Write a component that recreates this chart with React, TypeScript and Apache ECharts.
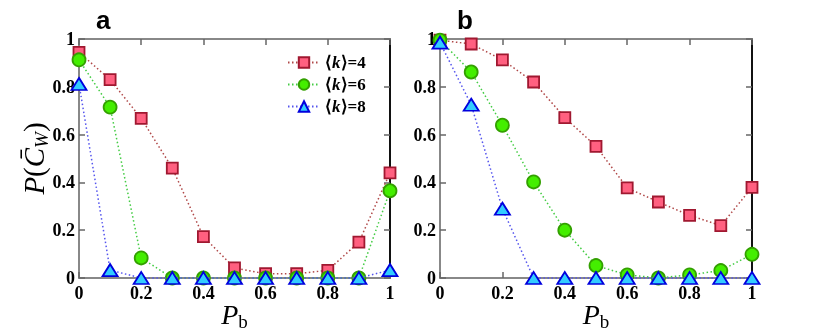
import React, { useEffect, useRef } from "react";
import * as echarts from "echarts";

const pb = [0, 0.1, 0.2, 0.3, 0.4, 0.5, 0.6, 0.7, 0.8, 0.9, 1.0];
const aK4 = [0.944, 0.83, 0.668, 0.46, 0.173, 0.042, 0.018, 0.018, 0.032, 0.15, 0.44];
const aK6 = [0.913, 0.715, 0.084, 0, 0, 0, 0, 0, 0, 0, 0.365];
const aK8 = [0.812, 0.033, 0, 0, 0, 0, 0, 0, 0, 0, 0.033];
const bK4 = [0.995, 0.979, 0.913, 0.82, 0.671, 0.551, 0.377, 0.318, 0.262, 0.219, 0.379];
const bK6 = [0.995, 0.862, 0.639, 0.402, 0.2, 0.052, 0.013, 0, 0.013, 0.031, 0.099];
const bK8 = [0.985, 0.725, 0.29, 0, 0, 0, 0, 0, 0, 0, 0];
const seriesNames = ["⟨k⟩=4", "⟨k⟩=6", "⟨k⟩=8"];
const panelLabels = ["a", "b"];

const styles = [
  { symbol: "rect", size: 11, fill: "#ff6080", border: "#a01830", line: "#b04848" },
  { symbol: "circle", size: 13, fill: "#44ee00", border: "#33a000", line: "#44cc44" },
  { symbol: "triangle", size: [15, 12], fill: "#33ccff", border: "#0000dd", line: "#5555ee" },
];

const fmt = (v: number) => (v === 0 || v === 1 ? String(v) : v.toFixed(1));
const labelFont = { fontFamily: "Liberation Serif", fontWeight: "bold" as const, fontSize: 18, color: "#000" };

export default function App() {
  const ref = useRef<HTMLDivElement>(null);
  useEffect(() => {
    const chart = echarts.init(ref.current!, null, { renderer: "svg" });
    const grids = [
      { left: 79, top: 39, width: 311, height: 239, outerBoundsMode: "none", containLabel: false },
      { left: 440, top: 39, width: 312, height: 239, outerBoundsMode: "none", containLabel: false },
    ];
    const xAxis: any[] = [];
    const yAxis: any[] = [];
    grids.forEach((_, gi) => {
      xAxis.push({
        type: "value", gridIndex: gi, min: 0, max: 1, interval: 0.2, position: "bottom",
        axisLine: { onZero: false, lineStyle: { color: "#888", width: 2 } },
        axisTick: { inside: true, length: 6, lineStyle: { color: "#666", width: 1.5 } },
        axisLabel: { ...labelFont, formatter: fmt, margin: 6 },
        splitLine: { show: false },
        name: "{i|P}{s|b}", nameLocation: "middle", nameGap: 22, nameMoveOverlap: false,
        nameTextStyle: {
          verticalAlign: "top",
          rich: {
            i: { fontFamily: "Liberation Serif", fontStyle: "italic", fontSize: 28, color: "#000", verticalAlign: "bottom" },
            s: { fontFamily: "Liberation Serif", fontSize: 19, color: "#000", verticalAlign: "bottom", padding: [0, 0, -3, 0] },
          },
        },
      });
      xAxis.push({
        type: "value", gridIndex: gi, min: 0, max: 1, interval: 0.2, position: "top",
        axisLine: { onZero: false, lineStyle: { color: "#888", width: 2 } },
        axisTick: { inside: true, length: 6, lineStyle: { color: "#666", width: 1.5 } },
        axisLabel: { show: false }, splitLine: { show: false },
      });
      yAxis.push({
        type: "value", gridIndex: gi, min: 0, max: 1, interval: 0.2, position: "left",
        axisLine: { show: true, onZero: false, lineStyle: { color: "#888", width: 2 } },
        axisTick: { show: true, inside: true, length: 6, lineStyle: { color: "#666", width: 1.5 } },
        axisLabel: { ...labelFont, formatter: fmt, margin: 4 },
        splitLine: { show: false },
        ...(gi === 0
          ? {
              name: "{i|P}{n|(}{i|C̄}{s|W}{n|)}", nameLocation: "middle", nameGap: 31, nameRotate: 90,
              nameMoveOverlap: false,
              nameTextStyle: {
                rich: {
                  i: { fontFamily: "Liberation Serif", fontStyle: "italic", fontSize: 29, color: "#000", verticalAlign: "bottom" },
                  n: { fontFamily: "Liberation Serif", fontSize: 29, color: "#000", verticalAlign: "bottom" },
                  s: { fontFamily: "Liberation Serif", fontStyle: "italic", fontSize: 19, color: "#000", verticalAlign: "bottom", padding: [0, 0, -3, 0] },
                },
              },
            }
          : {}),
      });
      yAxis.push({
        type: "value", gridIndex: gi, min: 0, max: 1, interval: 0.2, position: "right",
        axisLine: { show: true, onZero: false, lineStyle: { color: "#111", width: 2 } },
        axisTick: { show: true, inside: true, length: 6, lineStyle: { color: "#666", width: 1.5 } },
        axisLabel: { show: false }, splitLine: { show: false },
      });
    });
    const data = [[aK4, aK6, aK8], [bK4, bK6, bK8]];
    const series: any[] = [];
    data.forEach((panel, gi) => {
      panel.forEach((vals, si) => {
        const st = styles[si];
        series.push({
          type: "line", name: seriesNames[si], xAxisIndex: gi * 2, yAxisIndex: gi * 2,
          data: pb.map((x, i) => [x, vals[i]]),
          symbol: st.symbol, symbolSize: st.size, showAllSymbol: true,
          lineStyle: { color: st.line, width: 1.5, type: [1.5, 2.5] },
          itemStyle: { color: st.fill, borderColor: st.border, borderWidth: 1.8 },
          z: 2 + si,
          clip: false,
        });
      });
    });
    chart.setOption({
      animation: false,
      grid: grids,
      xAxis, yAxis, series,
      legend: {
        data: seriesNames, orient: "vertical", left: 287, top: 54, itemGap: 5, padding: 0,
        itemWidth: 32, itemHeight: 13,
        formatter: (n: string) => "⟨{i|k}⟩=" + n.slice(-1),
        textStyle: {
          fontFamily: "Liberation Serif", fontWeight: "bold", fontSize: 17, color: "#000",
          rich: { i: { fontFamily: "Liberation Serif", fontWeight: "bold", fontStyle: "italic", fontSize: 17, color: "#000" } },
        },
      },
      graphic: panelLabels.map((t, i) => ({
        type: "text", left: i === 0 ? 96 : 457, top: 7,
        style: { text: t, font: "bold 26px 'Liberation Sans'", fill: "#000" },
      })),
    });
    return () => chart.dispose();
  }, []);
  return <div ref={ref} style={{ position: "fixed", left: 0, top: 0, width: 830, height: 333 }} />;
}
